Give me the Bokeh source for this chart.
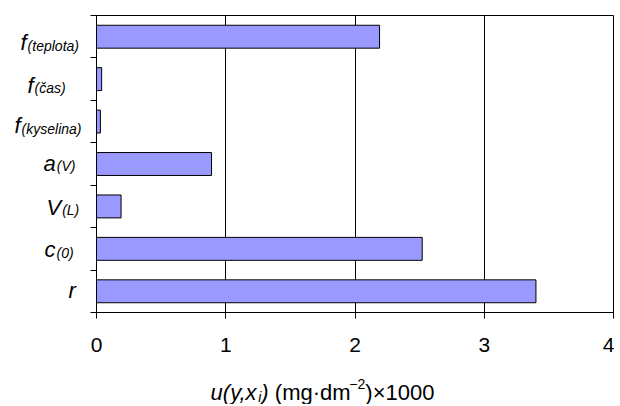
from bokeh.plotting import figure
from bokeh.models import FixedTicker, Range1d
from bokeh.layouts import column, row
from bokeh.core.properties import value
from bokeh.embed import file_html
from bokeh.resources import INLINE

# ---- data (bottom to top) ----
base_letters = ["r", "c", "V", "a", "f", "f", "f"]
subscripts = ["", "(0)", "(L)", "(V)", "(kyselina)", "(čas)", "(teplota)"]
values = [3.40, 2.52, 0.19, 0.89, 0.03, 0.04, 2.19]
x_ticks = [0, 1, 2, 3, 4]

# ---- layout / style ----
FONT = "Liberation Sans"
BASE_SIZE = 22
SUB_SIZE = 14
LAB_W = 88                 # width of the label strip left of the main figure
label_left_px = [68, 44, 46, 43, 14, 27, 20]   # left start of each category label in the strip
label_drop_px = [7, 9, 9, 7, 12, 14, 14]       # baseline below band centre
BASELINE_FIX = -8                              # renderer baseline correction
TOP = 15
BOTTOM = 50
MAIN_H = 362
TITLE_H = 42
TOTAL_W = 614

W = {'(': 333, ')': 333, 'u': 556, 'y': 500, ',': 278, 'x': 500, 'i': 222, ' ': 278,
     'm': 833, 'g': 556, '·': 278, 'd': 556, '−': 584, '2': 556, '×': 584, '0': 556,
     '1': 556, 't': 278, 'e': 556, 'p': 556, 'l': 222, 'o': 556, 'a': 556, 'č': 500,
     's': 500, 'k': 500, 'n': 556, 'V': 667, 'L': 556, 'f': 278, 'c': 500, 'r': 333}


def tw(s, size):
    return sum(W.get(ch, 556) for ch in s) * size / 1000.0


yr = Range1d(0, len(values))
ys = [i + 0.5 for i in range(len(values))]

# ---- main chart ----
p = figure(width=TOTAL_W - LAB_W, height=MAIN_H, output_backend="svg", toolbar_location=None,
           x_range=Range1d(0, 4), y_range=yr,
           min_border_left=8, min_border_right=1, min_border_top=TOP, min_border_bottom=BOTTOM)
p.background_fill_color = "white"
p.border_fill_color = "white"
p.outline_line_color = "black"
p.outline_line_width = 1

p.hbar(y=ys, right=values, left=0, height=0.54,
       fill_color="#9999FF", line_color="black", line_width=1)

p.ygrid.grid_line_color = None
p.xgrid.grid_line_color = "black"
p.xgrid.grid_line_width = 1
p.xgrid.ticker = FixedTicker(ticks=x_ticks)

p.xaxis.ticker = FixedTicker(ticks=x_ticks)
p.xaxis.axis_line_color = "black"
p.xaxis.major_tick_line_color = "black"
p.xaxis.major_tick_out = 6
p.xaxis.major_tick_in = 0
p.xaxis.minor_tick_line_color = None
p.xaxis.major_label_text_font = FONT
p.xaxis.major_label_text_font_size = "21px"
p.xaxis.major_label_text_color = "black"
p.xaxis.major_label_standoff = 19

p.yaxis.ticker = FixedTicker(ticks=list(range(len(values) + 1)))
p.yaxis.major_label_overrides = {i: "" for i in range(len(values) + 1)}
p.yaxis.axis_line_color = "black"
p.yaxis.major_tick_line_color = "black"
p.yaxis.major_tick_out = 6
p.yaxis.major_tick_in = 0
p.yaxis.minor_tick_line_color = None

# ---- category label strip ----
lab = figure(width=LAB_W, height=MAIN_H, output_backend="svg", toolbar_location=None,
             x_range=Range1d(0, LAB_W), y_range=yr, x_axis_type=None, y_axis_type=None,
             min_border_left=0, min_border_right=0, min_border_top=TOP, min_border_bottom=BOTTOM)
lab.outline_line_color = None
lab.grid.visible = False
lab.background_fill_color = "white"
lab.border_fill_color = "white"

for i, (b, s) in enumerate(zip(base_letters, subscripts)):
    drop = label_drop_px[i] + BASELINE_FIX
    lab.text(x=[label_left_px[i]], y=[ys[i]], text=[b], y_offset=drop,
             text_font=value(FONT), text_font_style="italic", text_font_size=f"{BASE_SIZE}px",
             text_color="black", text_align="left", text_baseline="alphabetic")
    if s:
        sx = label_left_px[i] + tw(b, BASE_SIZE) + 1
        lab.text(x=[sx], y=[ys[i]], text=[s], y_offset=drop + 3,
                 text_font=value(FONT), text_font_style="italic", text_font_size=f"{SUB_SIZE}px",
                 text_color="black", text_align="left", text_baseline="alphabetic")

# ---- x axis title strip ----
tt = figure(width=TOTAL_W, height=TITLE_H, output_backend="svg", toolbar_location=None,
            x_range=Range1d(0, TOTAL_W), y_range=Range1d(0, TITLE_H),
            x_axis_type=None, y_axis_type=None,
            min_border_left=0, min_border_right=0, min_border_top=0, min_border_bottom=0)
tt.outline_line_color = None
tt.grid.visible = False
tt.background_fill_color = "white"
tt.border_fill_color = "white"

TS = 22
SS = 14
pieces = [("u(y,x", "italic", TS, 0), ("i", "italic", SS, -4), (")", "italic", TS, 0),
          (" ", "normal", TS, 0),
          ("(mg·dm", "normal", TS, 0), ("−2", "normal", SS, 9), (")×1000", "normal", TS, 0)]
total = sum(tw(t, sz) for t, _, sz, _ in pieces)
cx = 322
baseline = TITLE_H - (400 - MAIN_H) - BASELINE_FIX
x0 = cx - total / 2
for t, st, sz, dy in pieces:
    if t.strip():
        tt.text(x=[x0], y=[baseline + dy], text=[t],
                text_font=value(FONT), text_font_style=st, text_font_size=f"{sz}px",
                text_color="black", text_align="left", text_baseline="alphabetic")
    x0 += tw(t, sz)

layout = column(row(lab, p, spacing=0), tt, spacing=0)
open("out.html", "w").write(file_html(layout, INLINE))
